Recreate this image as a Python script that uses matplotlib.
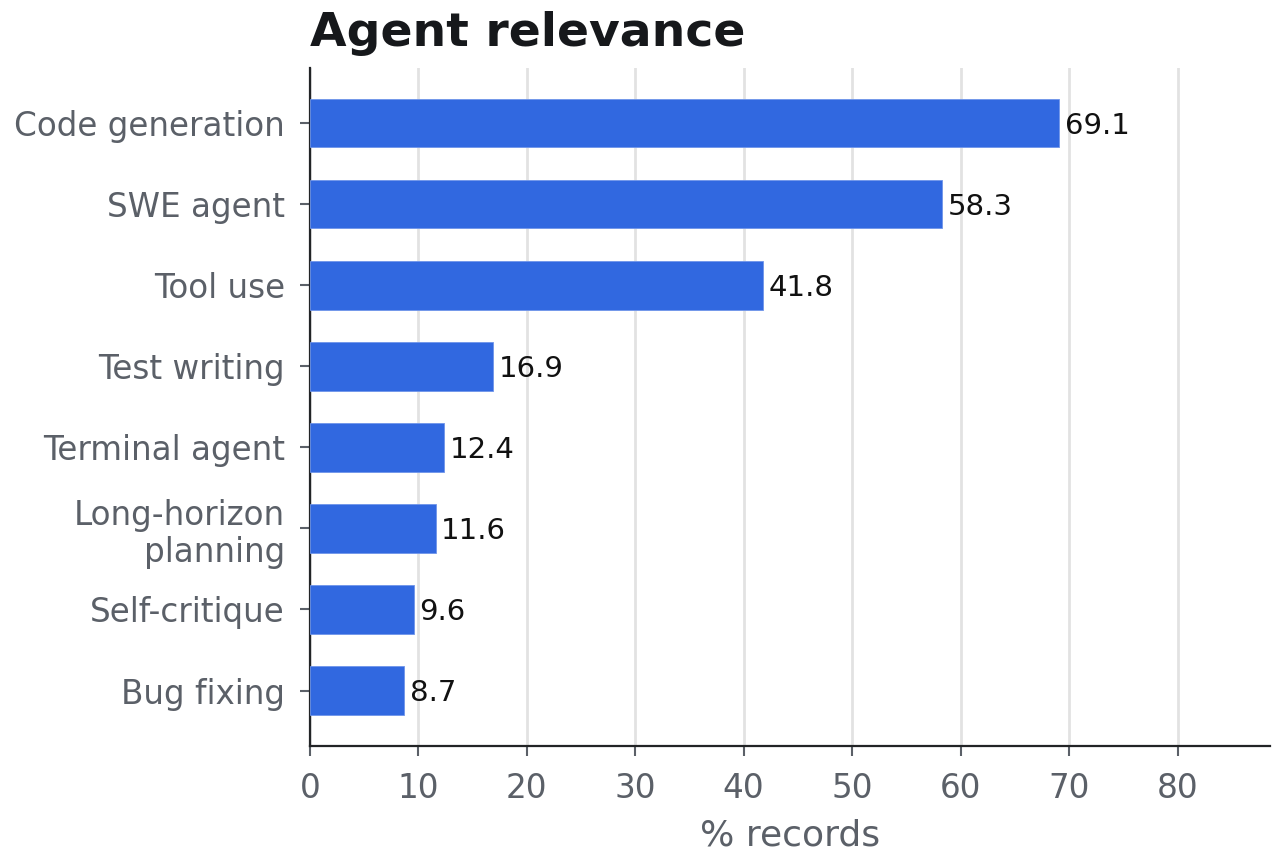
import matplotlib
matplotlib.use('Agg')
import matplotlib.pyplot as plt

categories = ['Code generation', 'SWE agent', 'Tool use', 'Test writing',
              'Terminal agent', 'Long-horizon\nplanning', 'Self-critique', 'Bug fixing']
values = [69.1, 58.3, 41.8, 16.9, 12.4, 11.6, 9.6, 8.7]
xticks = [0, 10, 20, 30, 40, 50, 60, 70, 80]

bar_color = '#3168e0'
label_color = '#5b6068'
spine_color = '#222426'

fig = plt.figure(figsize=(12.8, 8.66), dpi=100)
ax = fig.add_axes([0.242, 0.139, 0.75, 0.7825])

ypos = list(range(len(categories)))
bars = ax.barh(ypos, values, height=0.6, color=bar_color,
               edgecolor='#6f95ea', linewidth=0.6, zorder=3)
ax.invert_yaxis()
ax.set_yticks(ypos)
ax.set_yticklabels(categories, fontsize=23.5, color=label_color, linespacing=1.15)

# value labels at the bar ends
for y, v in zip(ypos, values):
    ax.annotate('%.1f' % v, xy=(v, y), xytext=(4, -2), textcoords='offset points',
                ha='left', va='center', fontsize=21, color='#111111')

ax.set_xlim(0, 88.5)
ax.set_xticks(xticks)
ax.set_xticklabels([str(t) for t in xticks], fontsize=23.5, color=label_color)
ax.set_xlabel('% records', fontsize=26, color=label_color, labelpad=10)

ax.grid(axis='x', color='#e2e2e2', linewidth=2, zorder=0)
ax.set_axisbelow(True)
for s in ['top', 'right']:
    ax.spines[s].set_visible(False)
for s in ['left', 'bottom']:
    ax.spines[s].set_color(spine_color)
    ax.spines[s].set_linewidth(1.6)
ax.tick_params(axis='both', colors=label_color, length=7, width=1.5)
ax.tick_params(axis='y', pad=11)
ax.tick_params(axis='x', pad=12)

ax.set_title('Agent relevance', loc='left', fontsize=34, fontweight='bold',
             color='#16181b', pad=16)

fig.savefig('out.png', dpi=100)
